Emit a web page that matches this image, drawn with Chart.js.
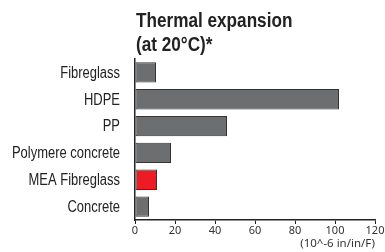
<!DOCTYPE html>
<html>
<head>
<meta charset="utf-8">
<script src="https://cdn.jsdelivr.net/npm/chart.js@4.4.0/dist/chart.umd.min.js"></script>
<style>
  html, body { margin: 0; padding: 0; background: #fff; }
  #wrap { width: 385px; height: 252px; }
</style>
</head>
<body>
<div id="wrap"><canvas id="myChart" width="385" height="252"></canvas></div>
<script>
// data
const materials = ['Fibreglass', 'HDPE', 'PP', 'Polymere concrete', 'MEA Fibreglass', 'Concrete'];
const expansion = [10.5, 102, 46, 18, 11, 7];
const highlight = 'MEA Fibreglass';
const titleLines = ['Thermal expansion', '(at 20°C)*'];
const unitLabel = '(10^-6 in/in/F)';
const xTicks = [0, 20, 40, 60, 80, 100, 120];

const sans = "'Liberation Sans', Arial, sans-serif";

// no narrow font installed, so squeeze Liberation Sans horizontally
function narrowText(ctx, text, x, y, sx, align) {
  ctx.save();
  ctx.translate(x, y);
  ctx.scale(sx, 1);
  ctx.textAlign = align;
  ctx.fillText(text, 0, 0);
  ctx.restore();
}

const narrowLabels = {
  id: 'narrowLabels',
  afterDraw(chart) {
    const ctx = chart.ctx;
    const yScale = chart.scales.y;
    ctx.save();
    ctx.fillStyle = '#222';
    ctx.textBaseline = 'middle';
    ctx.font = '16px ' + sans;
    materials.forEach((m, i) => {
      narrowText(ctx, m, chart.chartArea.left - 15, yScale.getPixelForValue(i) + 1, 0.81, 'right');
    });
    ctx.textBaseline = 'alphabetic';
    ctx.font = 'bold 19.5px ' + sans;
    titleLines.forEach((t, i) => narrowText(ctx, t, chart.chartArea.left + 1, 27 + i * 24, 0.88, 'left'));
    ctx.restore();
  }
};

function createChart () {
  const ctx = document.getElementById('myChart').getContext('2d');
  new Chart(ctx, {
    type: 'bar',
    data: {
      labels: materials,
      datasets: [{
        data: expansion,
        backgroundColor: materials.map(m => m === highlight ? '#ed1c24' : '#6d6e70'),
        borderColor: '#333',
        borderWidth: 1,
        borderSkipped: false,
        barPercentage: 0.76,
        categoryPercentage: 1
      }]
    },
    options: {
      indexAxis: 'y',
      responsive: false,
      animation: false,
      layout: { padding: { top: 59, right: 10, bottom: 1, left: 0 } },
      plugins: { legend: { display: false }, tooltip: { enabled: false } },
      scales: {
        y: {
          grid: { display: false },
          border: { color: '#222', width: 1.5 },
          ticks: { display: false },
          afterFit(scale) { scale.width = 135; }
        },
        x: {
          min: 0,
          max: 120,
          afterBuildTicks(scale) { scale.ticks = xTicks.map(v => ({ value: v })); },
          grid: { drawOnChartArea: false, drawTicks: true, tickLength: 4, color: '#222' },
          border: { color: '#222', width: 1.5 },
          ticks: { color: '#333', font: { family: "'Noto Sans', sans-serif", size: 11 }, padding: 0, maxRotation: 0 },
          title: {
            display: true,
            text: unitLabel,
            align: 'end',
            color: '#333',
            font: { family: "'Noto Sans', sans-serif", size: 11.5 },
            padding: { top: 0, bottom: 0 }
          }
        }
      }
    },
    plugins: [narrowLabels]
  });
}

createChart();
</script>
</body>
</html>
